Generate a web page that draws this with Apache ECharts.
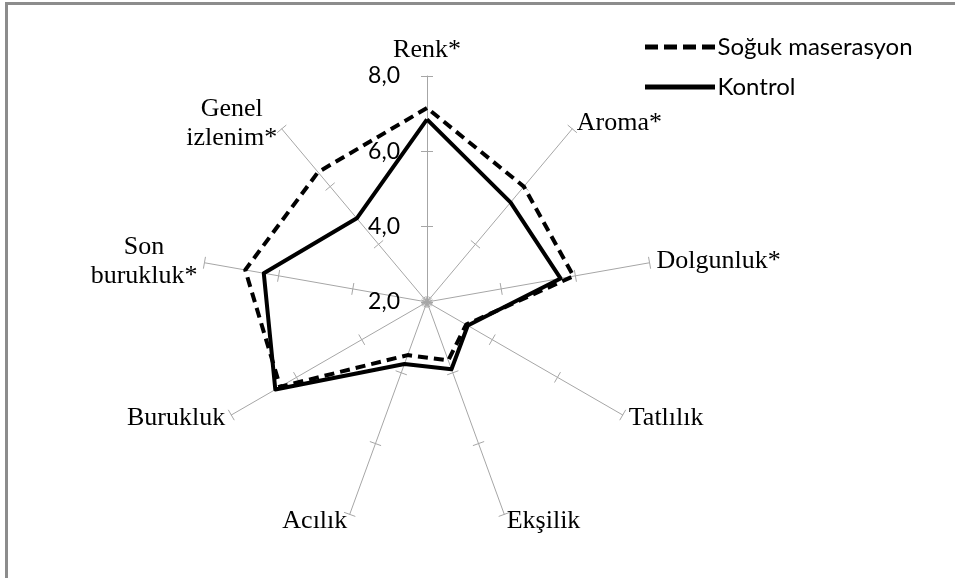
<!DOCTYPE html>
<html>
	<head>
		<meta charset="UTF-8">
		<title></title>
		<script type="text/javascript" src="https://cdn.jsdelivr.net/npm/echarts@6/dist/echarts.min.js"></script>
		<style>
			body { margin: 0; background: #fff; }
			#frame { position: absolute; left: 5px; top: 2px; width: 955px; height: 580px;
				border-top: 3px solid #8c8c8c; border-left: 3px solid #8c8c8c; }
			#content { position: absolute; left: 0; top: 0; width: 955px; height: 578px; }
		</style>
	</head>
	<body>
	<div id="frame"></div>
	<div id="content"></div>

	<script>
		// eksenler saat yönünde, Renk* tepede
		var indicators = ['Renk*', 'Aroma*', 'Dolgunluk*', 'Tatlılık', 'Ekşilik', 'Acılık', 'Burukluk', 'Son\nburukluk*', 'Genel\nizlenim*'];
		var soguk = [7.15, 6.0, 5.95, 3.2, 3.65, 3.5, 6.5, 6.9, 6.5];
		var kontrol = [6.85, 5.45, 5.6, 3.25, 3.9, 3.75, 6.65, 6.4, 4.9];
		var tickLabels = ['2,0', '4,0', '6,0', '8,0'];
		var seriesNames = ['Soğuk maserasyon', 'Kontrol'];

		// echarts radar saat yönünün tersine gidiyor, sırayı çevir
		function ccw(arr) {
			return [arr[0]].concat(arr.slice(1).reverse());
		}

		var names = ccw(indicators);
		var indicator = names.map(function (n, i) {
			var o = { name: n, min: 2, max: 8 };
			if (i === 0) o.axisLabel = { show: true };
			return o;
		});
		// ikinci radar sadece tiklerin öbür yarısı için
		var indicator2 = names.map(function (n) {
			return { name: n, min: 2, max: 8 };
		});

		var myChart = echarts.init(document.getElementById('content'));

		var tickStyle = { color: '#a6a6a6', width: 1 };

		option = {
			animation: false,
			legend: {
				orient: 'vertical',
				left: 640,
				top: 29,
				itemWidth: 73,
				itemHeight: 5,
				itemGap: 14,
				textStyle: { fontFamily: 'Lato', fontSize: 24, color: '#000', lineHeight: 26, padding: [0, 0, 0, -4] },
				itemStyle: { borderWidth: 0 },
				data: [
					{ name: seriesNames[0], icon: 'path://M0,0h13v5h-13zM19,0h13v5h-13zM38,0h13v5h-13zM57,0h13v5h-13z' },
					{ name: seriesNames[1], icon: 'path://M0,0h70v5h-70z' }
				]
			},
			radar: [
				{
					center: [427, 302],
					radius: 226,
					startAngle: 90,
					splitNumber: 3,
					indicator: indicator,
					nameGap: 7,
					axisName: {
						color: '#000',
						fontFamily: 'Liberation Serif',
						fontSize: 26,
						lineHeight: 29,
						formatter: function (n) {
							return n.split('\n').map(function (s) { return '{c|' + s + '}'; }).join('\n');
						},
						rich: {
							c: { align: 'center', fontFamily: 'Liberation Serif', fontSize: 26, lineHeight: 29, color: '#000' }
						}
					},
					axisLine: { lineStyle: tickStyle },
					axisTick: { show: true, length: 6, lineStyle: tickStyle },
					axisLabel: {
						show: false,
						margin: 27,
						color: '#000',
						fontFamily: 'Lato',
						fontSize: 23,
						formatter: function (v) {
							return tickLabels[Math.round((v - 2) / 2)];
						}
					},
					splitLine: { show: false },
					splitArea: { show: false }
				},
				{
					center: [427, 302],
					radius: 226,
					startAngle: 90,
					splitNumber: 3,
					indicator: indicator2,
					axisName: { show: false },
					axisLine: { show: false },
					axisTick: { show: true, length: -6, lineStyle: tickStyle },
					axisLabel: { show: false },
					splitLine: { show: false },
					splitArea: { show: false }
				}
			],
			series: [
				{
					type: 'radar',
					radarIndex: 0,
					symbol: 'none',
					data: [
						{
							name: seriesNames[0],
							value: ccw(soguk),
							itemStyle: { color: '#000' },
							lineStyle: { color: '#000', width: 4, type: [10, 6] }
						},
						{
							name: seriesNames[1],
							value: ccw(kontrol),
							itemStyle: { color: '#000' },
							lineStyle: { color: '#000', width: 4, type: 'solid' }
						}
					]
				}
			]
		};

		myChart.setOption(option);
	</script>

	</body>
</html>
